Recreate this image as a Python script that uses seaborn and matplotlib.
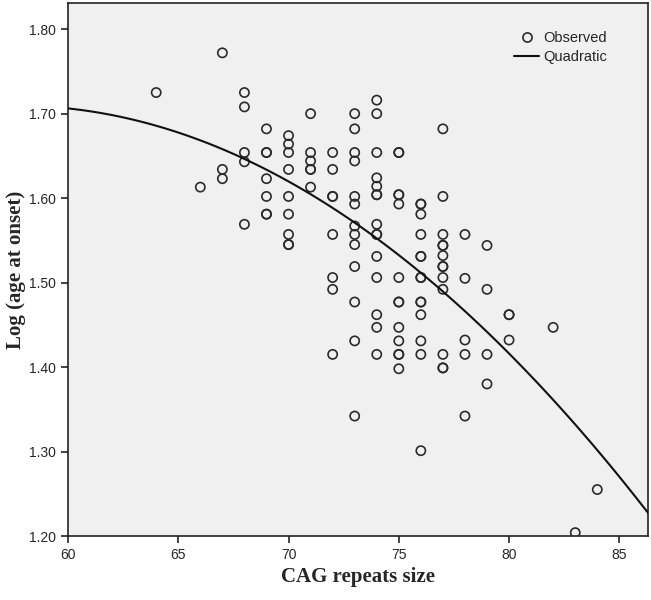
import matplotlib
matplotlib.use("Agg")
import matplotlib.pyplot as plt
import seaborn as sns
import pandas as pd
from matplotlib.lines import Line2D

# ---- data ----
cag = (
    [64]
    + [66]
    + [67] * 3
    + [68] * 5
    + [69] * 7
    + [70] * 9
    + [71] * 6
    + [72] * 8
    + [73] * 13
    + [74] * 15
    + [75] * 13
    + [76] * 14
    + [77] * 13
    + [78] * 5
    + [79] * 4
    + [80] * 3
    + [82, 83, 84]
)
log_onset = [
    1.725,
    1.613,
    1.772, 1.634, 1.623,
    1.725, 1.708, 1.654, 1.643, 1.569,
    1.682, 1.654, 1.654, 1.623, 1.602, 1.581, 1.581,
    1.674, 1.664, 1.654, 1.634, 1.602, 1.581, 1.557, 1.545, 1.545,
    1.700, 1.654, 1.644, 1.634, 1.634, 1.613,
    1.654, 1.634, 1.602, 1.602, 1.557, 1.506, 1.492, 1.415,
    1.700, 1.682, 1.654, 1.644, 1.602, 1.593, 1.567, 1.557, 1.545, 1.519, 1.477, 1.431, 1.342,
    1.716, 1.700, 1.654, 1.624, 1.614, 1.604, 1.604, 1.569, 1.557, 1.557, 1.531, 1.506, 1.462, 1.447, 1.415,
    1.654, 1.654, 1.604, 1.604, 1.593, 1.506, 1.477, 1.477, 1.447, 1.431, 1.415, 1.415, 1.398,
    1.593, 1.593, 1.581, 1.557, 1.531, 1.531, 1.506, 1.506, 1.477, 1.477, 1.462, 1.431, 1.415, 1.301,
    1.682, 1.602, 1.557, 1.544, 1.544, 1.532, 1.519, 1.519, 1.506, 1.492, 1.415, 1.399, 1.399,
    1.557, 1.505, 1.432, 1.415, 1.342,
    1.544, 1.492, 1.415, 1.380,
    1.462, 1.462, 1.432,
    1.447, 1.204, 1.255,
]
x_ticks = [60, 65, 70, 75, 80, 85]
y_ticks = [1.20, 1.30, 1.40, 1.50, 1.60, 1.70, 1.80]
x_label = "CAG repeats size"
y_label = "Log (age at onset)"
legend_labels = ["Observed", "Quadratic"]

df = pd.DataFrame({"cag": cag, "log_onset": log_onset})

sns.set_style("ticks")
plt.rcParams["font.family"] = ["Liberation Sans", "DejaVu Sans"]

fig = plt.figure(figsize=(6.51, 6.0), dpi=100)
ax = fig.add_axes([68 / 651, 1 - 536 / 600, (648 - 68) / 651, (536 - 3) / 600])
ax.set_facecolor("#f0f0f0")
ax.set_xlim(60, 86.3)
ax.set_ylim(1.20, 1.831)

sns.scatterplot(data=df, x="cag", y="log_onset", ax=ax, marker="o",
                s=44, facecolor="none", edgecolor="#2a2a2a", linewidth=1.2,
                legend=False, zorder=3)
sns.regplot(data=df, x="cag", y="log_onset", ax=ax, order=2, ci=None,
            scatter=False, truncate=False,
            line_kws=dict(color="#111111", linewidth=1.5, zorder=4))

ax.set_xticks(x_ticks)
ax.set_yticks(y_ticks)
ax.set_xticklabels([str(t) for t in x_ticks], fontsize=10)
ax.set_yticklabels([f"{t:.2f}" for t in y_ticks], fontsize=10)
ax.tick_params(direction="out", length=5, width=1.2, color="#222222", pad=3.5)
for sp in ax.spines.values():
    sp.set_linewidth(1.2)
    sp.set_color("#222222")

serif = ["Liberation Serif", "DejaVu Serif"]
ax.set_xlabel(x_label, fontsize=15, fontweight="bold", family=serif)
ax.set_ylabel(y_label, fontsize=15, fontweight="bold", family=serif)
ax.xaxis.set_label_coords(0.5, -0.058)
ax.yaxis.set_label_coords(-0.072, 0.5)

handles = [
    Line2D([], [], marker="o", linestyle="none", markerfacecolor="none",
           markeredgecolor="#2a2a2a", markeredgewidth=1.2, markersize=6.6),
    Line2D([], [], color="#111111", linewidth=1.5),
]
ax.legend(handles, legend_labels, loc="upper right", bbox_to_anchor=(0.93, 0.948),
          frameon=False, fontsize=10.5, handlelength=1.7, handletextpad=0.3,
          labelspacing=0.35, borderpad=0, borderaxespad=0)

fig.savefig("out.png", dpi=100)
